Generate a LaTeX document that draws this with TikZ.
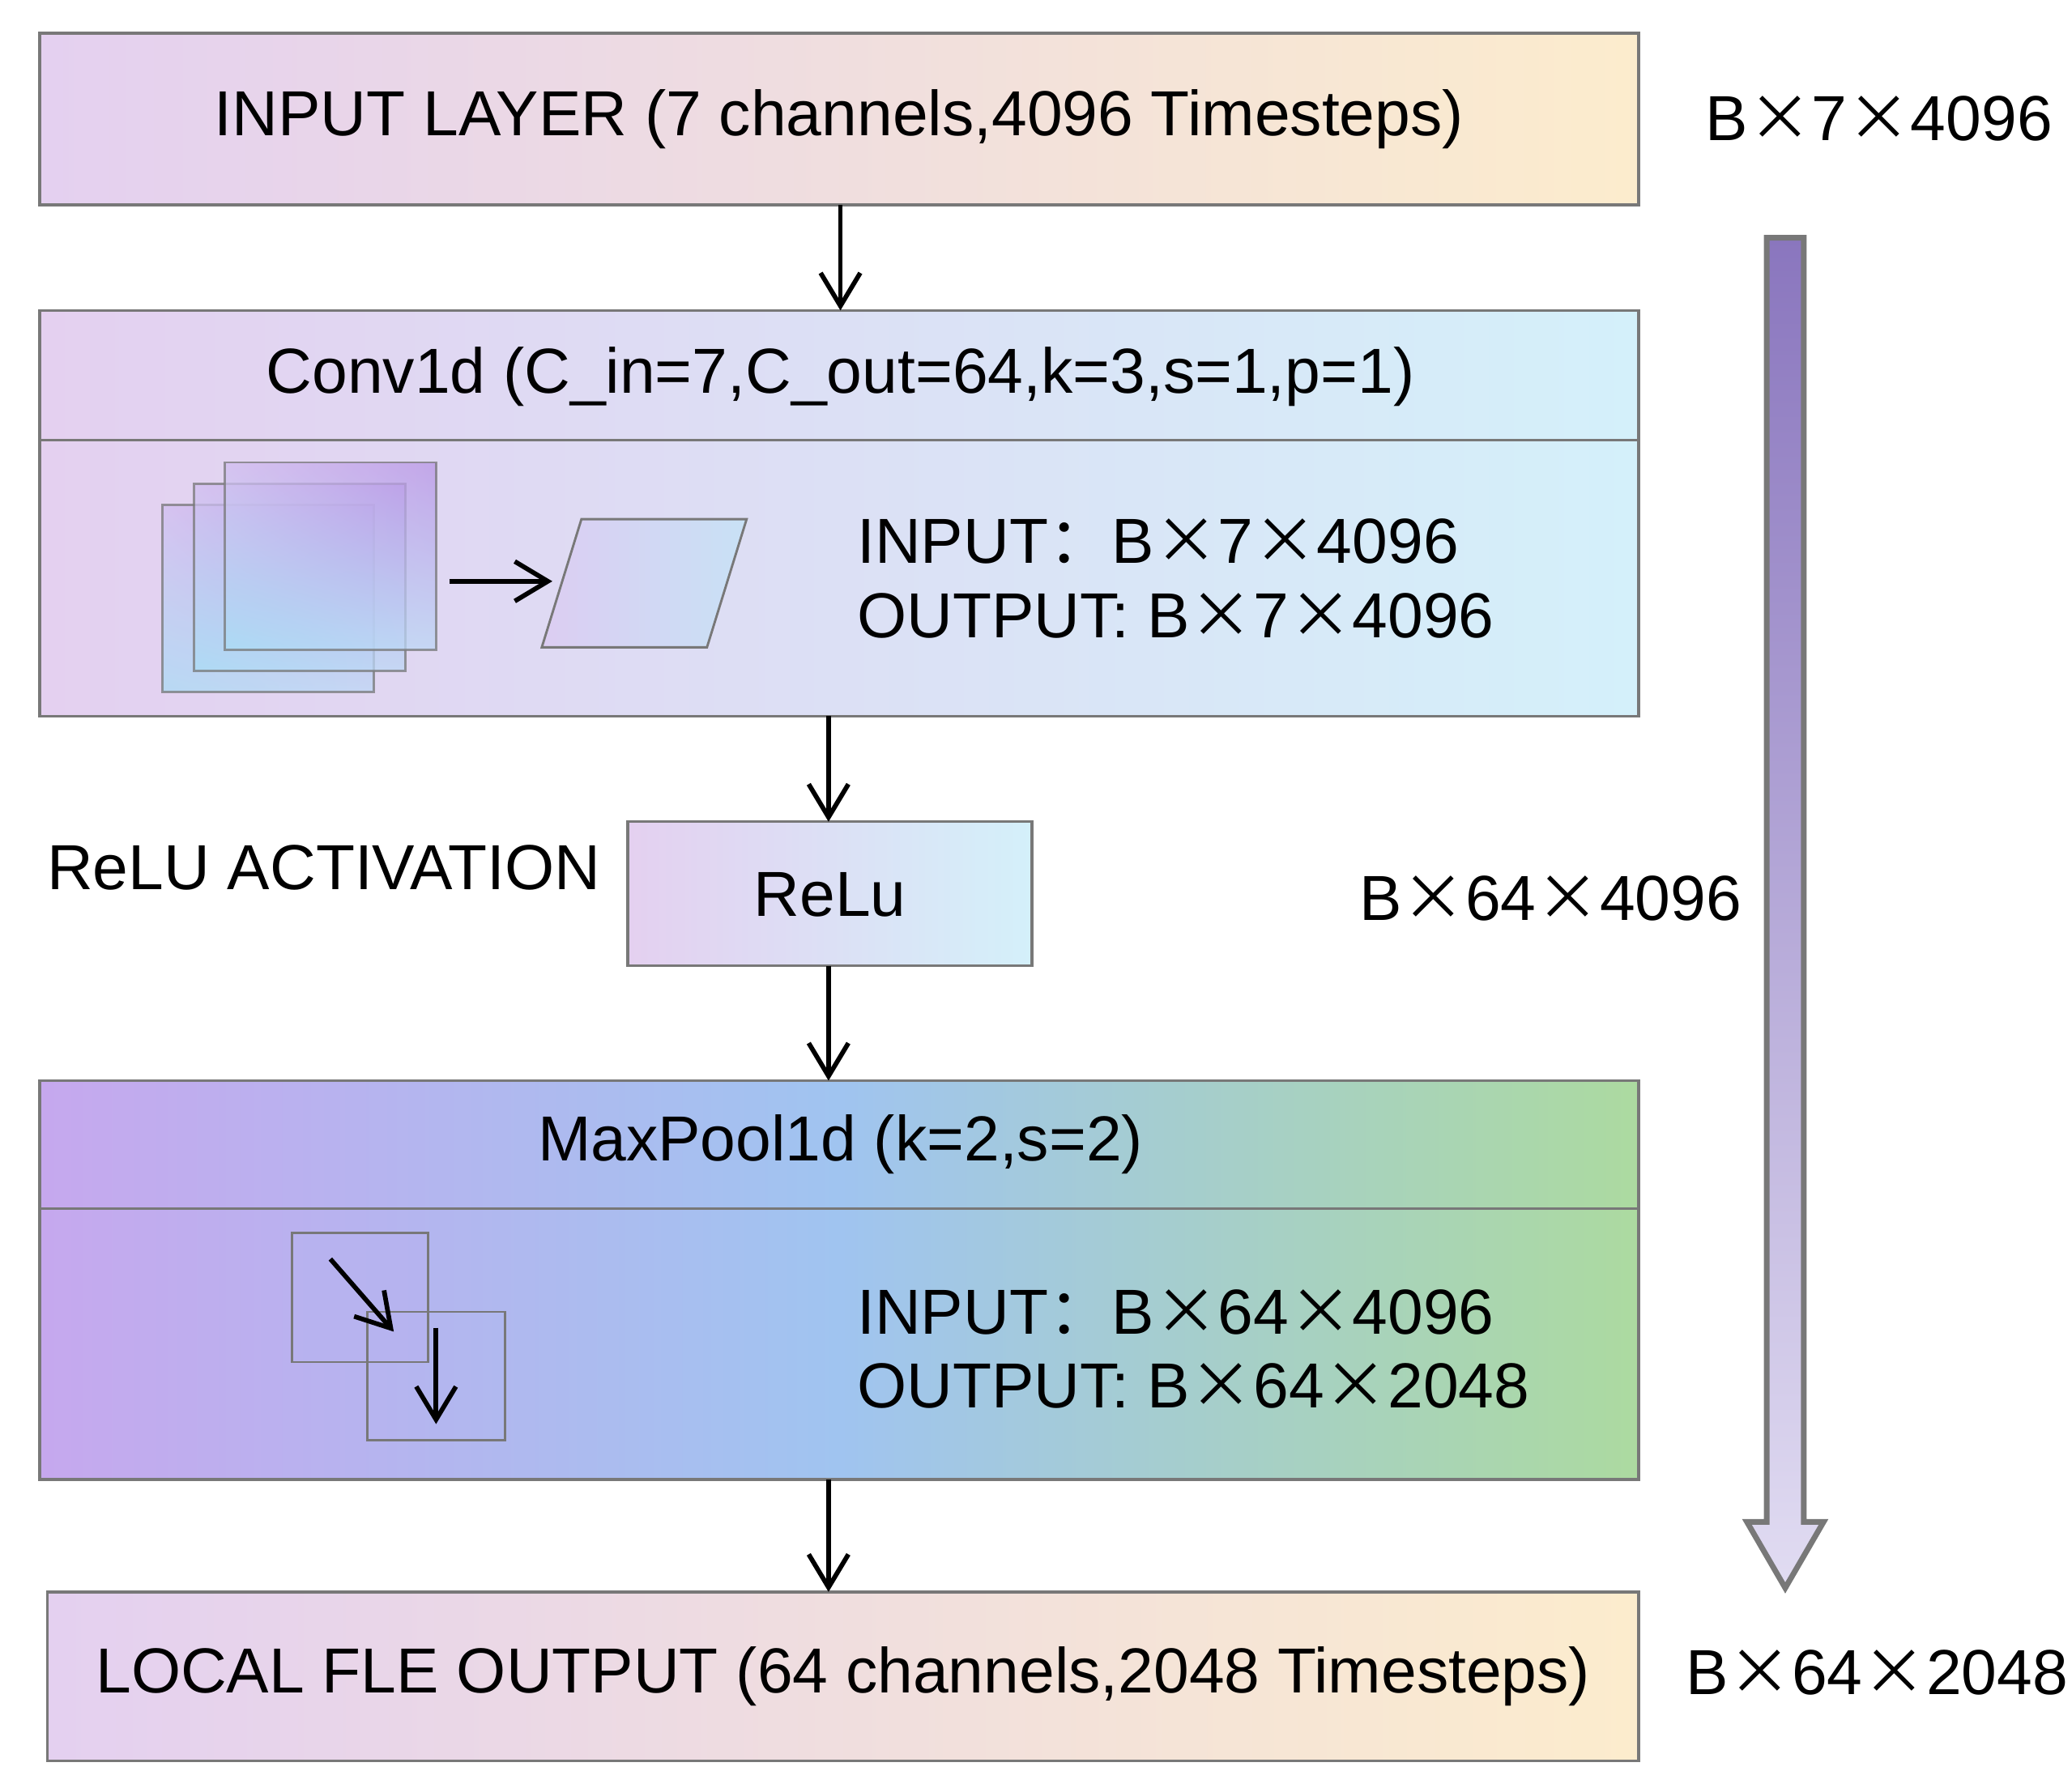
\documentclass[tikz,border=0pt]{standalone}
\usepackage{fontspec}
\setmainfont{Liberation Sans}
\newfontfamily\cjk{Noto Sans CJK SC}
\newcommand{\tms}{{\cjk ×}}
\usetikzlibrary{arrows.meta,shadings}
\definecolor{lav}{RGB}{228,208,240}
\definecolor{peach}{RGB}{252,236,205}
\definecolor{lcyan}{RGB}{212,240,250}
\definecolor{mpurple}{RGB}{198,168,238}
\definecolor{mblue}{RGB}{160,196,240}
\definecolor{mgreen}{RGB}{172,218,160}
\definecolor{bd}{RGB}{120,120,120}
\definecolor{sqa}{RGB}{185,150,230}
\definecolor{sqb}{RGB}{170,220,245}
\definecolor{sqc}{RGB}{210,190,240}
\definecolor{sqd}{RGB}{190,215,245}
\begin{document}
\begin{tikzpicture}[x=0.01cm,y=-0.01cm,
  box/.style={draw=bd,line width=0.6pt},
  txt/.style={font=\fontsize{13.7}{16}\selectfont,inner sep=0pt},
  arr/.style={-{Straight Barb[length=2.5mm,width=3mm]},line width=1pt},
  sq/.style={draw=bd,line width=0.5pt}]
\useasboundingbox (0,0) rectangle (1568,1353);
% input layer
\shade[box,left color=lav,right color=peach] (30,25) rectangle (1240,155);
\node[txt] (in) at (635,90) {INPUT LAYER (7 channels,4096 Timesteps)};
\node[txt,anchor=west] (s1) at (1290,90) {B\tms7\tms4096};
% conv
\shade[box,left color=lav,right color=lcyan] (30,235) rectangle (1240,542);
\draw[bd,line width=0.6pt] (30,333) -- (1240,333);
\coordinate (convtop) at (636,235);
\node[txt] (conv) at (636,285) {Conv1d (C\_in=7,C\_out=64,k=3,s=1,p=1)};
\foreach \dx/\dy in {0/0,24/-16,47/-32}{
  \shade[sq,opacity=0.75,upper left=sqc,lower right=sqd,upper right=sqa,lower left=sqb] (123+\dx,382+\dy) rectangle (283+\dx,524+\dy);}
\coordinate (ca) at (340,440); \coordinate (cb) at (418,440);
\draw[arr] (ca) -- (cb);
\shade[sq,left color={rgb,255:red,220;green,205;blue,242},right color={rgb,255:red,200;green,225;blue,245}] (410,490) -- (440,393) -- (565,393) -- (535,490) -- cycle;
\node[txt,anchor=west] (ci) at (648,410) {INPUT{\cjk ：}B\tms7\tms4096};
\node[txt,anchor=west] (co) at (648,466) {OUTPUT: B\tms7\tms4096};
\coordinate (convbot) at (627,542);
% relu
\shade[box,left color=lav,right color=lcyan] (475,622) rectangle (781,731);
\coordinate (relutop) at (627,622);
\node[txt] (relu) at (628,677) {ReLu};
\coordinate (relubot) at (627,731);
\node[txt,anchor=west] (rl) at (35,657) {ReLU ACTIVATION};
\node[txt,anchor=west] (s2) at (1028,680) {B\tms64\tms4096};
% maxpool
\shade[box,left color=mpurple,right color=mgreen,middle color=mblue] (30,818) rectangle (1240,1120);
\draw[bd,line width=0.6pt] (30,915) -- (1240,915);
\coordinate (mptop) at (627,818);
\node[txt] (mp) at (636,866) {MaxPool1d (k=2,s=2)};
\draw[sq,fill=mpurple!60!mblue,fill opacity=0.6] (221,933) rectangle (324,1031);
\draw[sq] (278,993) rectangle (382,1090);
\coordinate (m1) at (250,953); \coordinate (m2) at (298,1008);
\coordinate (m3) at (330,1005); \coordinate (m4) at (330,1078);
\draw[arr] (m1) -- (m2);
\draw[arr] (m3) -- (m4);
\node[txt,anchor=west] (mi) at (648,993) {INPUT{\cjk ：}B\tms64\tms4096};
\node[txt,anchor=west] (mo) at (648,1049) {OUTPUT: B\tms64\tms2048};
\coordinate (mpbot) at (627,1120);
% output
\shade[box,left color=lav,right color=peach] (36,1205) rectangle (1240,1333);
\coordinate (outtop) at (627,1205);
\node[txt] (out) at (638,1269) {LOCAL FLE OUTPUT (64 channels,2048 Timesteps)};
\node[txt,anchor=west] (s3) at (1275,1266) {B\tms64\tms2048};
% connectors
\coordinate (intop) at (636,155);
\draw[arr] (intop) -- (convtop);
\draw[arr] (convbot) -- (relutop);
\draw[arr] (relubot) -- (mptop);
\draw[arr] (mpbot) -- (outtop);
% big arrow
\shade[draw=bd,line width=1.2pt,top color={rgb,255:red,138;green,118;blue,190},bottom color={rgb,255:red,225;green,220;blue,242}]
 (1337,180) -- (1365,180) -- (1365,1152) -- (1380,1152) -- (1351,1202) -- (1322,1152) -- (1337,1152) -- cycle;
\end{tikzpicture}
\end{document}
